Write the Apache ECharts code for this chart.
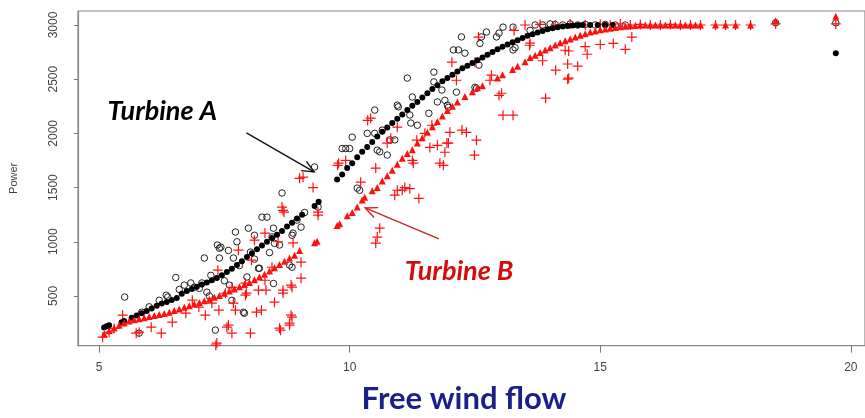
<!DOCTYPE html>
<html>
<head>
<meta charset="utf-8">
<script src="https://cdn.jsdelivr.net/npm/echarts@6/dist/echarts.min.js"></script>
<style>
  html, body { margin: 0; padding: 0; background: #fff; }
  #chart { width: 865px; height: 418px; }
</style>
</head>
<body>
<div id="chart"></div>
<script>
// Axis ticks
const xTicks = [5, 10, 15, 20];
const yTicks = [500, 1000, 1500, 2000, 2500, 3000];

// Turbine A: fitted power curve (wind speed, power)
const turbineAFit = [
  [5.1,210],[5.15,220],[5.2,230],[5.45,258],[5.5,268],[5.65,300],[5.75,320],[5.85,340],[5.95,360],
  [6.05,385],[6.15,410],[6.25,430],[6.35,445],[6.45,462],[6.55,480],[6.65,520],[6.75,545],[6.85,565],
  [6.95,585],[7.05,605],[7.15,625],[7.25,645],[7.35,665],[7.45,690],[7.55,720],[7.65,750],[7.75,785],
  [7.85,820],[7.95,860],[8.05,895],[8.15,930],[8.25,965],[8.35,1000],[8.45,1035],[8.55,1065],[8.65,1100],
  [8.75,1140],[8.85,1175],[8.95,1215],[9.05,1250],[9.3,1330],[9.38,1370],[9.75,1575],[9.85,1620],
  [9.95,1680],[10.05,1725],[10.15,1780],[10.25,1830],[10.35,1875],[10.45,1920],[10.55,1970],[10.65,2015],
  [10.75,2055],[10.85,2095],[10.95,2135],[11.05,2175],[11.15,2215],[11.25,2255],[11.35,2290],[11.45,2330],
  [11.55,2370],[11.65,2410],[11.75,2445],[11.85,2480],[11.95,2510],[12.05,2540],[12.15,2570],[12.25,2600],
  [12.35,2625],[12.45,2650],[12.55,2675],[12.65,2700],[12.75,2725],[12.85,2750],[12.95,2775],[13.05,2800],
  [13.15,2820],[13.25,2840],[13.35,2860],[13.45,2880],[13.55,2900],[13.65,2915],[13.75,2930],[13.85,2945],
  [13.95,2960],[14.05,2970],[14.15,2978],[14.25,2985],[14.35,2990],[14.45,2995],[14.55,2998],[14.65,3000],
  [14.8,3000],[14.95,3000],[15.1,3000],[15.25,3000],[19.7,2740]
];

// Turbine A: observed power
const turbineAObs = [
  [5.51,490],[5.8,157],[5.85,350],[6.0,400],[6.2,460],[6.37,490],[6.34,507],[6.53,670],[6.6,560],[6.7,600],
  [6.83,620],[6.9,580],[7.0,570],[7.05,620],[7.15,535],[7.1,850],[7.2,500],[7.23,690],[7.32,185],[7.36,970],
  [7.4,850],[7.43,950],[7.4,940],[7.5,640],[7.58,920],[7.6,600],[7.65,460],[7.68,850],[7.72,1090],[7.75,1000],
  [7.8,780],[7.88,350],[7.9,340],[7.95,675],[7.98,1125],[8.02,905],[8.1,1060],[8.1,840],[8.18,755],[8.2,755],
  [8.25,1227],[8.35,1227],[8.4,900],[8.45,1045],[8.48,1125],[8.48,615],[8.5,985],[8.6,970],[8.65,1450],
  [8.8,785],[8.85,765],[8.85,1060],[8.87,1080],[8.95,1200],[9.03,1135],[9.1,1270],[9.3,1690],[9.37,1320],
  [9.85,1860],[9.92,1860],[10.0,1860],[10.05,1965],[10.15,1495],[10.2,1475],[10.35,2000],[10.5,2000],
  [10.5,2215],[10.55,1845],[10.6,1830],[10.65,2030],[10.75,1800],[10.8,1940],[10.9,1940],[10.95,2260],
  [10.97,2245],[11.15,2510],[11.2,2170],[11.22,2095],[11.25,2335],[11.35,2075],[11.58,2185],[11.68,2565],
  [11.68,2475],[11.75,2290],[11.84,2400],[11.9,2305],[11.95,2260],[11.97,2240],[12.07,2770],[12.13,2380],
  [12.17,2770],[12.23,2890],[12.3,2740],[12.5,2425],[12.53,2415],[12.58,2630],[12.6,2830],[12.63,2890],
  [12.73,2935],[12.93,2890],[12.98,2925],[13.06,2980],[13.26,2980],[13.26,2770],[13.3,2790],[13.6,2950],
  [13.7,3000],[13.85,3000],[14.0,3010],[14.1,3005],[14.25,3000],[14.4,3010],[14.55,3000],[14.7,3005],
  [14.9,3000],[15.1,3005],[15.3,3000],[15.5,3000],[18.5,3020],[19.7,3020]
];

// Turbine B: fitted power curve
const turbineBFit = [
  [5.1,150],[5.2,180],[5.3,205],[5.4,230],[5.5,250],[5.6,268],[5.7,280],[5.8,290],[5.9,300],[6.0,310],
  [6.1,320],[6.2,330],[6.3,338],[6.4,350],[6.5,365],[6.6,380],[6.7,395],[6.8,410],[6.9,425],[7.0,440],
  [7.1,455],[7.2,470],[7.3,488],[7.4,505],[7.5,525],[7.6,545],[7.7,565],[7.8,585],[7.9,605],[8.0,625],
  [8.1,650],[8.2,675],[8.3,700],[8.4,730],[8.5,760],[8.6,790],[8.7,820],[8.8,850],[8.9,875],[9.0,920],
  [9.3,990],[9.35,1005],[9.75,1150],[9.8,1165],[9.95,1240],[10.05,1270],[10.15,1320],[10.25,1385],
  [10.3,1410],[10.45,1470],[10.55,1500],[10.65,1560],[10.75,1610],[10.85,1660],[10.95,1715],[11.05,1770],
  [11.15,1815],[11.25,1850],[11.35,1910],[11.45,1960],[11.55,2010],[11.65,2060],[11.75,2110],[11.85,2160],
  [11.95,2210],[12.05,2250],[12.15,2290],[12.3,2340],[12.45,2385],[12.55,2420],[12.65,2440],[12.95,2510],
  [13.05,2540],[13.25,2590],[13.35,2620],[13.5,2660],[13.6,2700],[13.7,2720],[13.8,2745],[13.9,2770],
  [14.0,2790],[14.1,2815],[14.2,2835],[14.3,2855],[14.4,2870],[14.5,2890],[14.6,2905],[14.7,2920],
  [14.8,2935],[14.9,2945],[15.0,2955],[15.1,2962],[15.2,2970],[15.3,2977],[15.4,2983],[15.5,2988],
  [15.6,2992],[15.7,2996],[15.8,3000],[15.9,3000],[16.0,3000],[16.1,3000],[16.2,3000],[16.3,3000],
  [16.4,3000],[16.5,3000],[16.6,3000],[16.7,3000],[16.8,3000],[16.9,3000],[17.0,3000],[17.3,3000],
  [17.5,3000],[17.7,3000],[18.0,3000],[18.5,3040],[19.7,3080]
];

// Turbine B: observed power
const turbineBObs = [
  [5.07,120],[5.2,166],[5.3,200],[5.47,323],[5.74,157],[5.8,166],[6.04,212],[6.24,157],[6.46,258],[6.73,341],
  [6.86,461],[6.99,397],[7.12,323],[7.25,433],[7.33,46],[7.35,65],[7.37,738],[7.39,369],[7.52,525],[7.55,212],
  [7.58,230],[7.65,157],[7.65,580],[7.68,433],[7.72,369],[7.78,922],[7.92,507],[7.92,618],[7.94,526],[8.02,157],
  [8.04,830],[8.1,1015],[8.14,350],[8.18,553],[8.24,369],[8.31,1080],[8.31,645],[8.33,553],[8.45,765],[8.5,443],
  [8.57,1000],[8.6,203],[8.62,184],[8.67,1290],[8.69,1273],[8.67,553],[8.67,526],[8.65,1320],[8.8,230],
  [8.8,249],[8.83,323],[8.85,304],[8.83,600],[8.85,581],[8.87,990],[9.0,1585],[9.03,812],[9.03,664],
  [9.07,1596],[9.27,1500],[9.37,1245],[9.37,1273],[9.76,1705],[9.78,1725],[9.92,1750],[10.22,1550],
  [10.36,2120],[10.42,2140],[10.52,1680],[10.52,987],[10.55,1043],[10.6,1125],[10.75,1910],[10.82,1955],
  [10.9,1430],[10.95,1475],[10.95,2057],[11.05,1476],[11.1,1500],[11.2,1490],[11.25,1750],[11.27,1725],
  [11.34,1937],[11.38,1400],[11.5,2000],[11.6,1870],[11.64,2075],[11.75,1890],[11.8,1725],[11.87,1705],
  [11.9,1826],[11.94,1910],[11.97,1910],[12.0,2010],[12.04,2657],[12.13,2490],[12.24,2030],[12.33,2010],
  [12.49,1800],[12.5,2657],[12.53,1937],[12.57,2888],[12.8,2490],[12.83,2537],[12.98,2350],[13.03,2370],
  [13.06,2168],[13.26,2168],[13.28,2950],[13.59,2813],[13.6,2832],[13.85,2670],[13.91,2325],[14.11,2583],
  [14.3,2767],[14.35,2500],[14.35,2640],[14.37,2509],[14.37,2760],[14.55,2620],[14.7,2800],[14.74,2730],
  [15.0,2820],[15.26,2830],[15.5,2775],[15.63,2888],
  [13.5,3000],[13.8,3005],[14.1,3000],[14.4,3010],[14.7,3000],[15.0,3005],[15.2,3000],[15.4,3010],
  [15.6,3000],[15.8,3005],[16.0,3000],[16.2,3000],[16.4,3005],[16.6,3000],[16.8,3000],[17.0,3000],
  [17.3,3000],[17.5,3000],[17.7,3000],[18.0,3000],[18.5,3010],[19.7,3010]
];

// Annotations, anchored in data units (wind speed, power)
const labelA = { text: 'Turbine A', at: [5.17, 2207] };
const labelB = { text: 'Turbine B', at: [11.1, 731] };
const arrowA = { from: [7.94, 2004], to: [9.29, 1644] };
const arrowB = { from: [11.78, 1026], to: [10.31, 1312] };

const RED = '#ff1010';
const PLUS = 'path://M0,44H44V0H56V44H100V56H56V100H44V56H0Z';
const plain = v => String(v);

const chart = echarts.init(document.getElementById('chart'), null, { renderer: 'canvas' });

chart.setOption({
  animation: false,
  backgroundColor: '#ffffff',
  grid: {
    left: 78, top: 11, width: 794, height: 334.7,
    show: true, borderColor: '#8a8a8a', borderWidth: 1.2, backgroundColor: 'transparent'
  },
  xAxis: {
    type: 'value', min: 4.579, max: 20.283,
    splitLine: { show: false },
    axisLine: { show: true, onZero: false, lineStyle: { color: '#8a8a8a', width: 1.2 } },
    axisTick: { show: true, customValues: xTicks, length: 7, lineStyle: { color: '#777' } },
    axisLabel: {
      customValues: xTicks, formatter: plain, margin: 16, color: '#444',
      fontFamily: 'Liberation Sans, Arial, sans-serif', fontSize: 12
    }
  },
  yAxis: {
    type: 'value', min: 41, max: 3129,
    name: 'Power', nameLocation: 'middle', nameGap: 59, nameRotate: 90,
    nameTextStyle: { color: '#444', fontFamily: 'Liberation Sans, Arial, sans-serif', fontSize: 11 },
    splitLine: { show: false },
    axisLine: { show: true, onZero: false, lineStyle: { color: '#8a8a8a', width: 1.2 } },
    axisTick: { show: true, customValues: yTicks, length: 4, lineStyle: { color: '#777' } },
    axisLabel: {
      customValues: yTicks, formatter: plain, rotate: 90, margin: 18, color: '#444',
      fontFamily: 'Liberation Sans, Arial, sans-serif', fontSize: 12
    }
  },
  series: [
    {
      name: 'Turbine A observed', type: 'scatter', data: turbineAObs,
      symbol: 'circle', symbolSize: 6.5,
      itemStyle: { color: 'rgba(0,0,0,0)', borderColor: '#222', borderWidth: 1, opacity: 1 }
    },
    {
      name: 'Turbine B observed', type: 'scatter', data: turbineBObs,
      symbol: PLUS, symbolSize: 10,
      itemStyle: { color: RED, opacity: 1 }
    },
    {
      name: 'Turbine A curve', type: 'scatter', data: turbineAFit,
      symbol: 'circle', symbolSize: 6,
      itemStyle: { color: '#000', opacity: 1 }
    },
    {
      name: 'Turbine B curve', type: 'scatter', data: turbineBFit,
      symbol: 'triangle', symbolSize: 7,
      itemStyle: { color: RED, opacity: 1 }
    }
  ]
});

function arrowGraphic(a, color, head) {
  const p0 = chart.convertToPixel({ gridIndex: 0 }, a.from);
  const p1 = chart.convertToPixel({ gridIndex: 0 }, a.to);
  const ang = Math.atan2(p0[1] - p1[1], p0[0] - p1[0]);
  const spread = 0.42;
  const h1 = [p1[0] + head * Math.cos(ang + spread), p1[1] + head * Math.sin(ang + spread)];
  const h2 = [p1[0] + head * Math.cos(ang - spread), p1[1] + head * Math.sin(ang - spread)];
  const style = { stroke: color, lineWidth: 1.4, fill: null };
  return [
    { type: 'polyline', shape: { points: [p0, p1] }, style },
    { type: 'polyline', shape: { points: [h1, p1, h2] }, style }
  ];
}

function textGraphic(lbl, color) {
  const p = chart.convertToPixel({ gridIndex: 0 }, lbl.at);
  return {
    type: 'text', x: p[0], y: p[1],
    style: {
      text: lbl.text, fill: color, align: 'left', verticalAlign: 'middle',
      font: 'italic bold 27px Lato, "Open Sans", sans-serif'
    }
  };
}

chart.setOption({
  graphic: [
    textGraphic(labelA, '#000'),
    textGraphic(labelB, '#d40c0c'),
    ...arrowGraphic(arrowA, '#111', 13),
    ...arrowGraphic(arrowB, '#d42020', 13),
    {
      type: 'text', x: 464, y: 399,
      style: {
        text: 'Free wind flow', fill: '#1b1f8a', align: 'center', verticalAlign: 'middle',
        font: 'bold 31px Lato, "Open Sans", sans-serif'
      }
    }
  ]
});
</script>
</body>
</html>
